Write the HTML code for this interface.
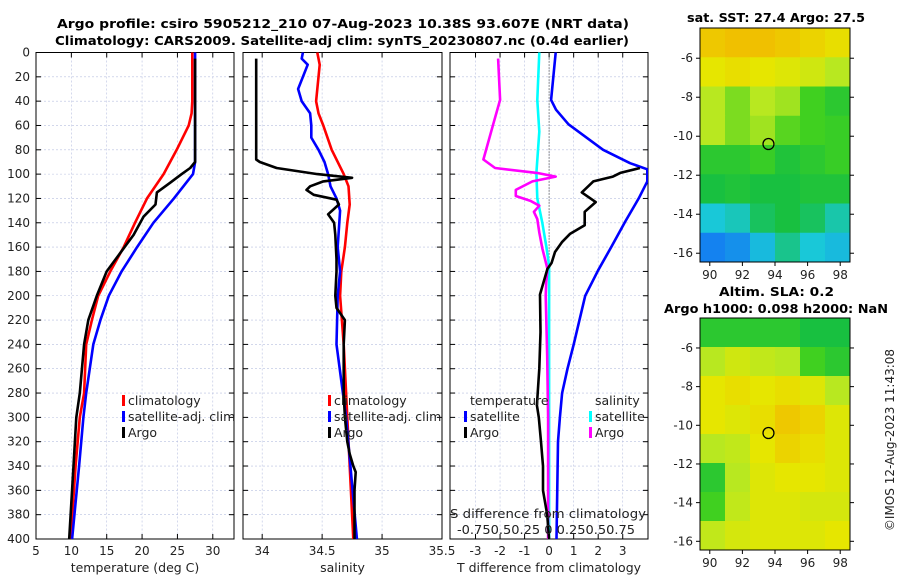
<!DOCTYPE html>
<html><head><meta charset="utf-8"><style>
body{margin:0;background:#fff}
svg{display:block;font-family:"DejaVu Sans","Liberation Sans",sans-serif}
.t{font-weight:bold;font-size:12px}
.tk{font-size:12px;fill:#222}
.lg{font-size:12.5px;fill:#222}
</style></head><body>
<svg id="c" width="900" height="580" viewBox="0 0 900 580">
<text class="t" x="57" y="28" textLength="572" lengthAdjust="spacingAndGlyphs">Argo profile: csiro 5905212_210 07-Aug-2023 10.38S 93.607E (NRT data)</text>
<text class="t" x="55" y="45" textLength="574" lengthAdjust="spacingAndGlyphs">Climatology: CARS2009. Satellite-adj clim: synTS_20230807.nc (0.4d earlier)</text>
<text class="t" x="687" y="22" textLength="178" lengthAdjust="spacingAndGlyphs">sat. SST: 27.4 Argo: 27.5</text>
<text class="t" x="719" y="296" textLength="115" lengthAdjust="spacingAndGlyphs">Altim. SLA: 0.2</text>
<text class="t" x="664" y="313" textLength="224" lengthAdjust="spacingAndGlyphs">Argo h1000: 0.098 h2000: NaN</text>
<text class="tk" transform="translate(894,440) rotate(-90)" text-anchor="middle">©IMOS 12-Aug-2023 11:43:08</text>
<g id="g"></g>
</svg>
<script>
// ---- data ----
const depthTicks=[0,20,40,60,80,100,120,140,160,180,200,220,240,260,280,300,320,340,360,380,400];
const tempTicks=[5,10,15,20,25,30];
const salTicks=[34,34.5,35,35.5];
const dTTicks=[-3,-2,-1,0,1,2,3];
const tArgoD=[5,90,95,100,107,115,125,135,150,165,180,200,220,240,280,300,340,400];
const tArgoV=[27.5,27.5,26.8,25.6,24,22.1,21.9,20.2,18.8,16.9,15,13.6,12.4,11.8,11.2,10.7,10.3,9.7];
const tClimD=[0,40,50,60,80,100,120,140,160,180,200,220,240,280,300,340,400];
const tClimV=[27.1,27.1,27,26.6,24.9,23.05,20.7,19,17.4,15.5,13.8,12.9,12.1,11.8,11.2,10.6,9.9];
const tSatD=[0,90,100,120,140,160,180,200,220,240,280,300,340,400];
const tSatV=[27.5,27.5,27.2,24.5,21.6,19.3,17.1,15.3,14.1,13.1,12.1,11.7,11.1,10.1];
const sArgoD=[5,88,90,95,100,103,106,110,113,117,121,125,133,140,150,170,180,200,210,220,240,280,300,320,330,340,345,360,400];
const sArgoV=[33.95,33.95,33.98,34.12,34.46,34.75,34.51,34.4,34.37,34.43,34.62,34.64,34.55,34.6,34.61,34.62,34.62,34.61,34.62,34.69,34.68,34.68,34.69,34.71,34.73,34.76,34.78,34.77,34.77];
const sClimD=[0,10,40,50,60,80,100,110,125,140,160,180,200,240,300,400];
const sClimV=[34.46,34.48,34.45,34.47,34.51,34.58,34.68,34.72,34.73,34.71,34.69,34.66,34.65,34.68,34.71,34.76];
const sSatD=[0,5,10,30,40,50,60,70,80,90,100,110,120,130,160,180,200,240,300,400];
const sSatV=[34.34,34.33,34.38,34.3,34.33,34.4,34.41,34.41,34.47,34.52,34.55,34.57,34.62,34.65,34.63,34.65,34.63,34.62,34.7,34.79];
const dtSatD=[0,39,47,59,80,91,96,106,120,139,159,179,200,240,260,280,300,320,400];
const dtSatV=[0.27,0.08,0.28,0.79,2.2,3.3,4.0,4.0,3.65,3.1,2.56,2.0,1.47,1.0,0.75,0.53,0.44,0.36,0.3];
const dtArgoD=[95,99,102,106,115,123,131,142,149,156,164,173,178,189,199,230,260,290,300,320,340,360,380,400];
const dtArgoV=[3.7,2.9,2.6,1.8,1.33,1.9,1.45,1.45,0.86,0.52,0.24,0.1,-0.07,-0.23,-0.37,-0.35,-0.4,-0.5,-0.42,-0.33,-0.25,-0.25,-0.08,0];
const dsSatD=[0,39,65,99,120,140,159,175,200,300,340,400];
const dsSatV=[-0.1,-0.12,-0.1,-0.13,-0.12,-0.07,-0.03,0,0,0,0,0];
const dsArgoD=[5,39,59,88,95,99,102,106,113,118,122,126,131,137,148,161,178,189,200,250,300,400];
const dsArgoV=[-0.52,-0.5,-0.57,-0.67,-0.55,-0.125,0.067,-0.17,-0.34,-0.34,-0.19,-0.1,-0.155,-0.12,-0.1,-0.07,-0.017,-0.03,-0.035,-0.02,-0.01,-0.01];
const lonTicks=[90,92,94,96,98];
const latTicks1=[-6,-8,-10,-12,-14,-16];
const sstGrid=[[.78,.8,.8,.78,.75,.72],[.7,.72,.7,.68,.65,.6],[.6,.55,.6,.58,.5,.45],[.6,.55,.58,.52,.5,.48],[.45,.45,.48,.42,.45,.48],[.4,.42,.4,.4,.42,.42],[.3,.32,.38,.4,.38,.33],[.2,.22,.28,.35,.3,.28]];
const slaGrid=[[.45,.45,.45,.45,.4,.4],[.6,.65,.62,.6,.5,.45],[.7,.72,.7,.72,.68,.6],[.7,.68,.72,.78,.75,.68],[.6,.62,.7,.75,.72,.68],[.45,.6,.68,.7,.7,.68],[.5,.62,.68,.68,.66,.66],[.62,.66,.68,.68,.68,.7]];
const argoPos=[93.6,-10.4];
// ---- drawing ----
const NS='http://www.w3.org/2000/svg';const G=document.getElementById('g');
function mk(t,a,p){const e=document.createElementNS(NS,t);for(const k in a)e.setAttribute(k,a[k]);(p||G).appendChild(e);return e;}
const YT=52.5,YB=539;
const Y=d=>YT+d*(YB-YT)/400;
const panels=[
 {x0:36,x1:234,v0:5,v1:33,ticks:tempTicks,lab:'temperature (deg C)',n:'temperature-panel'},
 {x0:243,x1:442,v0:33.84,v1:35.5,ticks:salTicks,lab:'salinity',n:'salinity-panel'},
 {x0:450,x1:648,v0:-4.04,v1:4.03,ticks:dTTicks,lab:'T difference from climatology',n:'difference-panel'}];
panels.forEach((p,i)=>{
 p.X=v=>p.x0+(v-p.v0)/(p.v1-p.v0)*(p.x1-p.x0);
 const g=mk('g',{});
 
 
 depthTicks.forEach(d=>{const l=mk('line',{x1:p.x0,x2:p.x1,y1:Y(d),y2:Y(d),stroke:'#b8c0e0','stroke-width':0.6,'stroke-dasharray':'2,2'},g);
  
  mk('line',{x1:p.x0,x2:p.x0+5,y1:Y(d),y2:Y(d),stroke:'#000'},g);mk('line',{x1:p.x1-5,x2:p.x1,y1:Y(d),y2:Y(d),stroke:'#000'},g);
  if(i==0){const t=mk('text',{x:30,y:Y(d)+4,'text-anchor':'end',class:'tk'},g);t.textContent=d;}});
 p.ticks.forEach(v=>{const x=p.X(v);mk('line',{x1:x,x2:x,y1:YT,y2:YB,stroke:'#b8c0e0','stroke-width':0.6,'stroke-dasharray':'2,2'},g);
  mk('line',{x1:x,x2:x,y1:YB,y2:YB-5,stroke:'#000'},g);mk('line',{x1:x,x2:x,y1:YT,y2:YT+5,stroke:'#000'},g);
  const t=mk('text',{x:x,y:555,'text-anchor':'middle',class:'tk'},g);t.textContent=v;});
 mk('rect',{x:p.x0,y:YT,width:p.x1-p.x0,height:YB-YT,fill:'none',stroke:'#000','stroke-width':1},g);
 const t=mk('text',{x:(p.x0+p.x1)/2,y:572,'text-anchor':'middle',class:'lg'},g);t.textContent=p.lab;
});
function line(p,D,V,col,name,f){const pts=D.map((d,k)=>p.X(f?f(V[k]):V[k]).toFixed(1)+','+Y(d).toFixed(1)).join(' ');
 const e=mk('polyline',{points:pts,fill:'none',stroke:col,'stroke-width':2.6,'stroke-linejoin':'round'});}
const P=panels;
const cp=mk('clipPath',{id:'cp'});mk('rect',{x:450,y:YT,width:198,height:YB-YT},cp);
line(P[0],tClimD,tClimV,'#f00','temp-climatology-line');line(P[0],tSatD,tSatV,'#00f','temp-satellite-line');line(P[0],tArgoD,tArgoV,'#000','temp-argo-line');
line(P[1],sClimD,sClimV,'#f00','sal-climatology-line');line(P[1],sSatD,sSatV,'#00f','sal-satellite-line');line(P[1],sArgoD,sArgoV,'#000','sal-argo-line');
const z=P[2].X(0);const dl=mk('line',{x1:z,x2:z,y1:YT,y2:YB,stroke:'#333','stroke-dasharray':'1,2'});
const n0=G.childNodes.length;
line(P[2],dsSatD,dsSatV,'#0ff','dS-satellite-line',v=>v*4);line(P[2],dsArgoD,dsArgoV,'#f0f','dS-argo-line',v=>v*4);
line(P[2],dtSatD,dtSatV,'#00f','dT-satellite-line');line(P[2],dtArgoD,dtArgoV,'#000','dT-argo-line');
Array.from(G.childNodes).slice(n0).forEach(e=>e.setAttribute('clip-path','url(#cp)'));
// legends
function leg(x,y,col,txt,name){const r=mk('rect',{x:x,y:y-10,width:3,height:11,fill:col});
 const t=mk('text',{x:x+6,y:y,class:'lg'});t.textContent=txt;}
[122,328].forEach((x,i)=>{const pre=i?'sal':'temp';leg(x,405,'#f00','climatology',pre+'-legend-climatology');leg(x,421,'#00f','satellite-adj. clim',pre+'-legend-satellite');leg(x,437,'#000','Argo',pre+'-legend-argo');});
let tt=mk('text',{x:470,y:405,class:'lg'});tt.textContent='temperature';
tt=mk('text',{x:595,y:405,class:'lg'});tt.textContent='salinity';
leg(464,421,'#00f','satellite','diff-legend-t-satellite');leg(464,437,'#000','Argo','diff-legend-t-argo');
leg(589,421,'#0ff','satellite','diff-legend-s-satellite');leg(589,437,'#f0f','Argo','diff-legend-s-argo');
tt=mk('text',{x:450,y:518,textLength:196,lengthAdjust:'spacingAndGlyphs',class:'lg'});tt.textContent='S difference from climatology';
tt=mk('text',{x:457,y:534,textLength:178,lengthAdjust:'spacingAndGlyphs',class:'lg'});tt.textContent='-0.750.50.25 0 0.250.50.75';
// maps
const stops=[[0.2,[20,130,240]],[0.3,[25,200,216]],[0.4,[24,192,64]],[0.5,[64,208,32]],[0.6,[184,232,32]],[0.7,[230,230,0]],[0.8,[240,192,0]]];
function cmap(v){if(v<=stops[0][0])return stops[0][1];for(let i=1;i<stops.length;i++){if(v<=stops[i][0]){const a=stops[i-1],b=stops[i],f=(v-a[0])/(b[0]-a[0]);return a[1].map((c,k)=>Math.round(c+(b[1][k]-c)*f));}}return stops[stops.length-1][1];}
function map(grid,y0,y1,lat0,lat1,ticks,name){
 const x0=700,x1=850,lon0=89.4,lon1=98.6;const X=v=>x0+(v-lon0)/(lon1-lon0)*(x1-x0);const YY=v=>y0+(lat0-v)/(lat0-lat1)*(y1-y0);
 const g=mk('g',{});
 const R=grid.length,C=grid[0].length,cw=(x1-x0)/C,ch=(y1-y0)/R;
 grid.forEach((row,r)=>row.forEach((v,c)=>{const e=mk('rect',{x:x0+c*cw,y:y0+r*ch,width:cw+0.5,height:ch+0.5,fill:'rgb('+cmap(v).join(',')+')'},g);}));
 mk('rect',{x:x0,y:y0,width:x1-x0,height:y1-y0,fill:'none',stroke:'#000'},g);
 lonTicks.forEach(v=>{const x=X(v);mk('line',{x1:x,x2:x,y1:y1,y2:y1+4,stroke:'#000'},g);const t=mk('text',{x:x,y:y1+17,'text-anchor':'middle',class:'tk'},g);t.textContent=v;});
 ticks.forEach(v=>{const y=YY(v);mk('line',{x1:x1,x2:x1+4,y1:y,y2:y,stroke:'#000'},g);mk('line',{x1:x0-4,x2:x0,y1:y,y2:y,stroke:'#000'},g);const t=mk('text',{x:x0-7,y:y+4,'text-anchor':'end',class:'tk'},g);t.textContent=v;});
 const m=mk('circle',{cx:X(argoPos[0]),cy:YY(argoPos[1]),r:5.5,fill:'none',stroke:'#000','stroke-width':1.3},g);
}
map(sstGrid,28,262,-4.45,-16.45,latTicks1,'sst-map');
map(slaGrid,318,550,-4.45,-16.45,latTicks1,'sla-map');
</script>
</body></html>
